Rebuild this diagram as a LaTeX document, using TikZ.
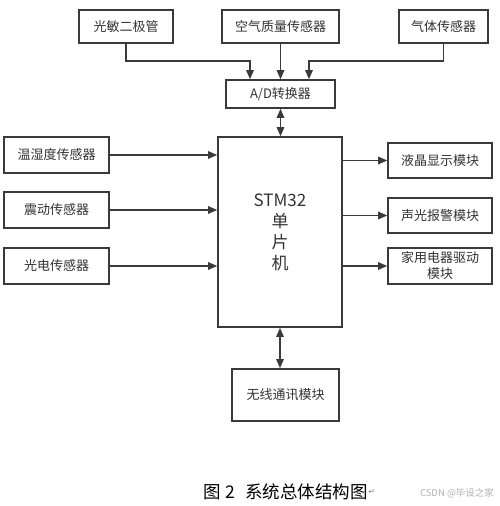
\documentclass[tikz,border=0pt]{standalone}
\usepackage{fontspec}
\setmainfont{Noto Sans CJK SC}
\newfontfamily\symfont{DejaVu Sans}
\usetikzlibrary{arrows.meta,calc}
\definecolor{ln}{HTML}{3A3A3A}
\definecolor{tx}{HTML}{333333}
\begin{document}
\begin{tikzpicture}[x=1pt,y=-1pt,
  box/.style={draw=ln,line width=1.6pt,inner sep=0pt,align=center,text=tx,
    font=\fontsize{13}{15}\selectfont,minimum height=#1},
  box/.default=33,
  con/.style={draw=ln,line width=1.4pt,-{Triangle[length=9pt,width=7.5pt]}},
  dcon/.style={draw=ln,line width=1.4pt,{Triangle[length=9pt,width=7.5pt]}-{Triangle[length=9pt,width=7.5pt]}}]
\useasboundingbox (0,0) rectangle (499,506);
\fill[white] (0,0) rectangle (499,506);
% top row
\node[box,minimum width=94] (pm) at (126,26.5) {光敏二极管};
\node[box,minimum width=117] (kq) at (280.5,26.5) {空气质量传感器};
\node[box,minimum width=89] (qt) at (443.5,26.5) {气体传感器};
\node[box=28,minimum width=109] (ad) at (280.5,94) {A/D转换器};
% left column
\node[box=36,minimum width=105] (wsd) at (56.5,155) {温湿度传感器};
\node[box=36,minimum width=105] (zd) at (56.5,210) {震动传感器};
\node[box=36,minimum width=105] (gd) at (56.5,266) {光电传感器};
% MCU
\node[box=190,minimum width=124,font=\fontsize{17}{21}\selectfont] (stm) at (280,232) {STM32\\单\\片\\机};
% right column
\node[box=35,minimum width=104] (yj) at (440,160.5) {液晶显示模块};
\node[box=35,minimum width=104] (sg) at (440,215.5) {声光报警模块};
\node[box=36,minimum width=104,font=\fontsize{13}{16}\selectfont] (jy) at (440,266) {家用电器驱动\\模块};
% wireless
\node[box=52,minimum width=107] (wx) at (285.5,395) {无线通讯模块};
% connectors top
\draw[con] (pm.south) |- (250,61) -- ([xshift=-30.5pt]ad.north);
\draw[con] (kq.south) -- (ad.north);
\draw[con] (qt.south) |- (309,61) -- ([xshift=28.5pt]ad.north);
% AD - MCU
\draw[dcon] (ad.south) -- (ad.south |- stm.north);
% left
\draw[con] (wsd.east) -- (wsd.east -| stm.west);
\draw[con] (zd.east) -- (zd.east -| stm.west);
\draw[con] (gd.east) -- (gd.east -| stm.west);
% right
\draw[con] (stm.east |- yj.west) -- (yj.west);
\draw[con] (stm.east |- sg.west) -- (sg.west);
\draw[con] (stm.east |- jy.west) -- (jy.west);
% MCU - wireless
\draw[dcon] (stm.south) -- (stm.south |- wx.north);
% caption
\node[anchor=west,inner sep=0pt,text=black,font=\fontsize{17.5}{19}\selectfont] (cap) at (203,492) {图\hspace{5pt}2\hspace{10pt}系统总体结构图};
\node[anchor=west,inner sep=0pt,text=gray,font=\symfont\fontsize{8}{9}\selectfont] (ret) at (cap.east) {↵};
\node[inner sep=0pt,text=black!30,font=\fontsize{9.5}{10}\selectfont] (wm) at (457,493) {CSDN @毕设之家};
\end{tikzpicture}
\end{document}
